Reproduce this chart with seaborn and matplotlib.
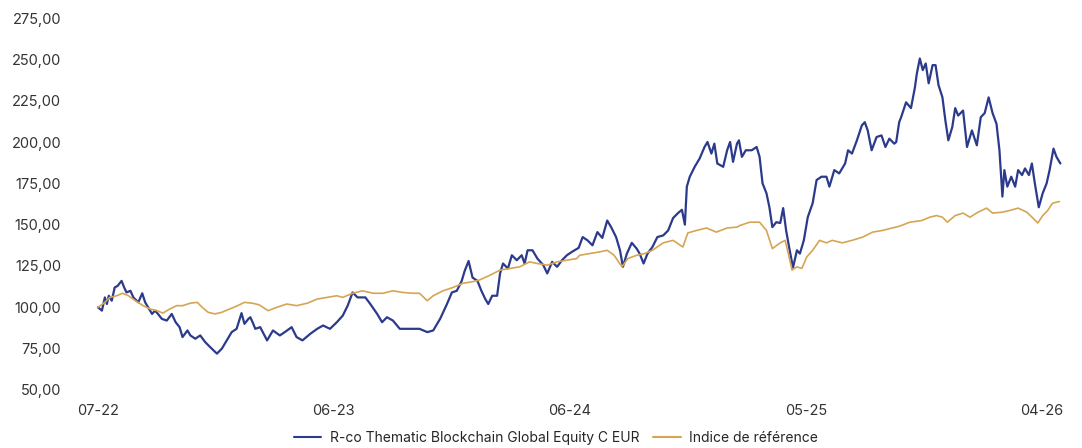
import numpy as np
import pandas as pd
import matplotlib
matplotlib.use('Agg')
import matplotlib.pyplot as plt
import seaborn as sns
from matplotlib.ticker import FuncFormatter

# Fonds : jour de bourse depuis le début et valeur base 100
fonds_jour = [0, 4, 7, 9, 11, 14, 17, 20, 24, 27, 29, 33, 36, 41, 45, 48, 51, 55, 58, 61,
              65, 70, 75, 79, 83, 86, 91, 94, 99, 104, 109, 114, 121, 126, 131, 136, 141, 146, 149, 153,
              155, 158, 160, 165, 172, 178, 185, 190, 197, 202, 208, 216, 223, 229, 236, 243, 249, 254, 259, 264,
              272, 277, 284, 289, 294, 300, 307, 314, 320, 327, 335, 341, 348, 355, 360, 365, 370, 373, 377, 381,
              386, 390, 394, 397, 401, 406, 409, 412, 417, 421, 426, 431, 434, 437, 442, 447, 453, 457, 462, 467,
              472, 477, 482, 489, 493, 498, 503, 508, 513, 518, 522, 527, 531, 534, 538, 543, 548, 551, 555, 559,
              564, 569, 575, 580, 585, 590, 594, 597, 599, 602, 607, 612, 617, 620, 624, 627, 630, 636, 640, 643,
              646, 650, 652, 655, 659, 665, 670, 673, 676, 680, 683, 686, 690, 694, 697, 700, 703, 707, 711, 714,
              718, 722, 727, 731, 736, 741, 744, 749, 754, 760, 763, 767, 772, 777, 780, 783, 787, 792, 797, 801,
              805, 810, 812, 815, 817, 822, 827, 831, 833, 836, 839, 842, 845, 849, 852, 855, 859, 862, 865, 869,
              872, 875, 880, 884, 889, 894, 898, 902, 906, 910, 914, 917, 920, 922, 925, 929, 933, 936, 940, 943,
              947, 950, 953, 957, 961, 965, 968, 972, 975, 979]
fonds_valeur = [100, 98, 106, 102, 107, 104, 112, 113, 116, 111.5, 109, 110, 106, 103, 108.5, 103, 100, 96, 98, 96,
                93, 92, 96, 91, 88, 82, 86, 83, 81, 83, 79, 76, 72, 75, 80, 85, 87, 96.5, 90, 93,
                94, 90, 87, 88, 80, 86, 83, 85, 88, 82, 80, 84, 87, 89, 87, 91, 95, 101, 109, 106,
                106, 102, 96, 91, 94, 92, 87, 87, 87, 87, 85, 86, 93, 102, 109, 110, 116, 122, 128, 118,
                116, 110, 105, 102, 107, 107, 120.5, 126.5, 123.5, 131.5, 128.5, 131.5, 126.5, 134.5, 134.5, 129.5, 125.5, 120.5, 127.5, 124.5,
                128.5, 131.5, 133.5, 136, 142.5, 140.5, 137.5, 145.5, 142, 152.5, 148.5, 142.5, 134.5, 124.5, 132.5, 139, 135.5, 132.5, 126.5, 132.5,
                136.5, 142.5, 143.5, 146.5, 154, 157, 159, 150, 173, 179, 185, 190, 197, 200, 193, 199, 187, 185, 195, 200,
                188, 199, 201, 191, 195, 195, 197, 191, 175, 169, 160.5, 148.5, 151.5, 151, 160, 146.5, 136.5, 124, 134.5, 132.5,
                140.5, 154.5, 163, 177, 179, 179, 173, 183, 181, 187, 195, 193, 201, 210, 212, 207, 195, 203, 204, 197,
                202, 199, 200, 212, 215, 224, 220.5, 233, 241.5, 250.5, 243.5, 247.5, 235.5, 246.5, 246.5, 234.5, 227, 213, 201, 209,
                220.5, 216, 219, 197, 207, 198, 215, 217.5, 227, 217.5, 211, 195, 167, 183, 173, 179, 173, 183, 180, 184,
                180, 187, 175, 160.5, 169, 175, 183, 196, 191, 187]

# Indice de référence
indice_jour = [0, 7, 12, 19, 25, 31, 38, 46, 53, 60, 66, 73, 80, 86, 94, 101, 106, 112, 119, 126,
               134, 142, 149, 157, 164, 173, 182, 192, 202, 213, 223, 233, 243, 249, 259, 269, 280, 290, 300, 310,
               320, 327, 335, 341, 351, 361, 371, 381, 388, 399, 409, 419, 429, 439, 447, 457, 467, 477, 487, 490,
               500, 510, 518, 525, 533, 539, 548, 556, 564, 575, 585, 595, 600, 609, 619, 629, 640, 650, 653, 663,
               673, 680, 686, 694, 699, 703, 706, 711, 716, 721, 727, 734, 741, 747, 757, 767, 778, 788, 798, 808,
               815, 826, 838, 846, 853, 859, 864, 872, 880, 887, 895, 904, 910, 919, 927, 936, 945, 951, 956, 961,
               966, 971, 978]
indice_valeur = [100, 103, 106, 107, 108.5, 107, 104, 101, 99, 98, 96.5, 99, 101, 101, 102.5, 103, 100, 97, 96, 97,
                 99, 101, 103, 102.5, 101.5, 98, 100, 102, 101, 102.5, 105, 106, 107, 106, 108.5, 110, 108.5, 108.5, 110, 109,
                 108.5, 108.5, 104, 107, 110, 112, 114.5, 115.5, 116.5, 119.5, 122.5, 123.5, 124.5, 127.5, 126.5, 125.5, 127.5, 128.5, 129.5, 131.5,
                 132.5, 133.5, 134.5, 131.5, 124.5, 129.5, 131.5, 132.5, 134.5, 139, 140.5, 136.5, 145, 146.5, 148, 145.5, 148, 148.5, 149.5, 151.5,
                 151.5, 146.5, 135.5, 139, 140.5, 130.5, 122.5, 124.5, 123.5, 130.5, 134.5, 140.5, 139, 140.5, 139, 140.5, 142.5, 145.5, 146.5, 148,
                 149, 151.5, 152.5, 154.5, 155.5, 154.5, 151.5, 155.5, 157, 154.5, 157.5, 160, 157, 157.5, 158.5, 160, 157.5, 154, 151, 155.5,
                 158.5, 163, 164]

tick_jours = [0, 240, 480, 720, 960]
tick_labels = ['07-22', '06-23', '06-24', '05-25', '04-26']
y_ticks = [50, 75, 100, 125, 150, 175, 200, 225, 250, 275]

nom_fonds = 'R-co Thematic Blockchain Global Equity C EUR'
nom_indice = 'Indice de référence'


def trace():
    sns.set_theme(style='white')
    plt.rcParams['font.family'] = ['Inter', 'DejaVu Sans']

    df = pd.concat([
        pd.DataFrame({'jour': fonds_jour, 'valeur': fonds_valeur, 'serie': nom_fonds}),
        pd.DataFrame({'jour': indice_jour, 'valeur': indice_valeur, 'serie': nom_indice}),
    ], ignore_index=True)

    fig = plt.figure(figsize=(10.82, 4.48), dpi=100)
    ax = fig.add_axes([0.0693, 0.1295, 0.924, 0.8303])

    sns.lineplot(data=df, x='jour', y='valeur', hue='serie', estimator=None, sort=True,
                 palette={nom_fonds: '#2c3a8c', nom_indice: '#d6a553'}, ax=ax)
    for line, lw in zip(ax.lines, [1.6, 1.2]):
        line.set_linewidth(lw)

    ax.set_xlim(-23.4, 993.6)
    ax.set_ylim(50, 275)
    ax.set_xticks(tick_jours)
    ax.set_xticklabels(tick_labels)
    ax.set_yticks(y_ticks)
    ax.yaxis.set_major_formatter(FuncFormatter(lambda v, p: f'{v:.2f}'.replace('.', ',')))
    ax.tick_params(axis='both', length=0, labelsize=10.5, colors='#333333')
    ax.tick_params(axis='x', pad=10)
    ax.tick_params(axis='y', pad=10)
    ax.set_xlabel('')
    ax.set_ylabel('')
    sns.despine(ax=ax, left=True, bottom=True)

    sns.move_legend(ax, 'center', bbox_to_anchor=(0.481, -0.129), ncol=2, frameon=False,
                    title=None, fontsize=10, handlelength=2.0, columnspacing=1.0, handletextpad=0.6)

    fig.savefig('out.png', dpi=100)


if __name__ == '__main__':
    trace()
